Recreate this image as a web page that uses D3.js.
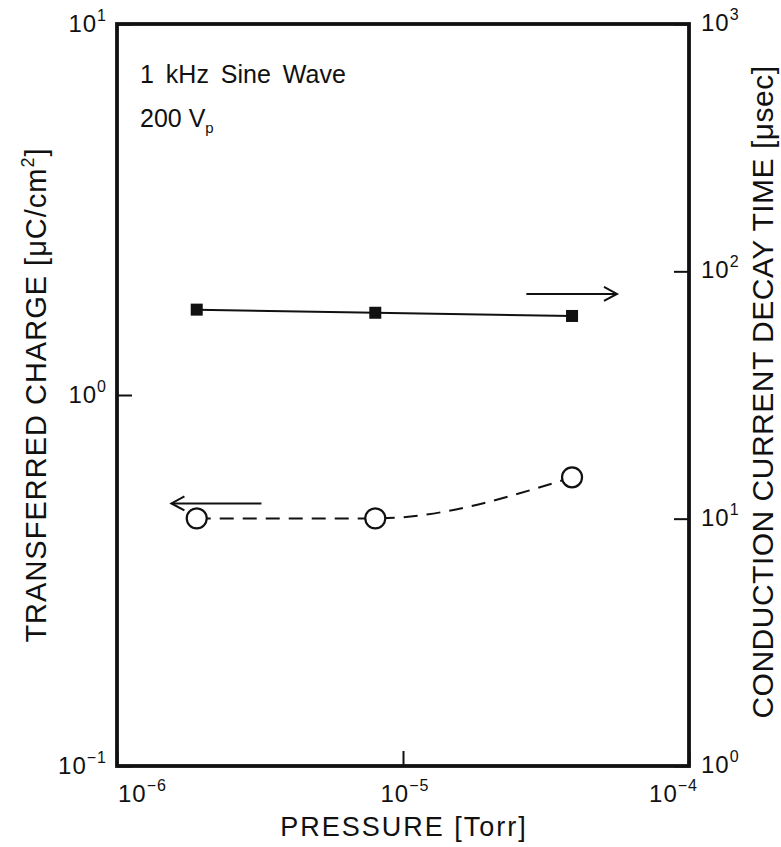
<!DOCTYPE html>
<html>
<head>
<meta charset="utf-8">
<script src="https://cdn.jsdelivr.net/npm/d3@7"></script>
<style>
  body { margin: 0; background: #fff; }
  svg text { font-family: "Liberation Sans", Arial, sans-serif; fill: #111; }
</style>
</head>
<body>
<svg id="chart" width="781" height="847"></svg>
<script>
// data
var pressure = [1.9e-6, 8.0e-6, 3.9e-5];          // Torr
var decayTime = [70, 68, 66];                     // usec, right axis
var charge = [0.465, 0.465, 0.60];                // uC/cm2, left axis

var xTicks = [1e-6, 1e-5, 1e-4];
var xTickExp = ["\u22126", "\u22125", "\u22124"];
var yLeftTicks = [0.1, 1, 10];
var yLeftExp = ["\u22121", "0", "1"];
var yRightTicks = [1, 10, 100, 1000];
var yRightExp = ["0", "1", "2", "3"];

var LEFT = 117, RIGHT = 689, TOP = 24, BOTTOM = 766;
var TICK = 15;

var svg = d3.select("#chart");

var x = d3.scaleLog().domain([1e-6, 1e-4]).range([LEFT, RIGHT]);
var yL = d3.scaleLog().domain([0.1, 10]).range([BOTTOM, TOP]);
var yR = d3.scaleLog().domain([1, 1000]).range([BOTTOM, TOP]);

// inward ticks
svg.append("g").attr("transform", "translate(0," + BOTTOM + ")")
    .call(d3.axisBottom(x).tickValues(xTicks).tickSize(-TICK).tickFormat(""))
    .call(function(g) { g.select(".domain").remove(); });
svg.append("g").attr("transform", "translate(" + LEFT + ",0)")
    .call(d3.axisLeft(yL).tickValues(yLeftTicks).tickSize(-TICK).tickFormat(""))
    .call(function(g) { g.select(".domain").remove(); });
svg.append("g").attr("transform", "translate(" + RIGHT + ",0)")
    .call(d3.axisRight(yR).tickValues(yRightTicks).tickSize(-TICK).tickFormat(""))
    .call(function(g) { g.select(".domain").remove(); });
svg.selectAll(".tick line").attr("stroke", "#111").attr("stroke-width", 2);

// frame
svg.append("rect")
    .attr("x", LEFT).attr("y", TOP)
    .attr("width", RIGHT - LEFT).attr("height", BOTTOM - TOP)
    .attr("fill", "none").attr("stroke", "#111").attr("stroke-width", 3.8);

function powLabel(sel, exp) {
    sel.append("tspan").text("10");
    sel.append("tspan").attr("dy", -11).attr("font-size", 16).text(exp);
}

// x tick labels (the end ones sit inside the corners)
var xAnchor = ["start", "middle", "end"];
var xShift = [1, 2, 9];
xTicks.forEach(function(v, i) {
    var t = svg.append("text")
        .attr("x", x(v) + xShift[i]).attr("y", 802)
        .attr("text-anchor", xAnchor[i]).attr("font-size", 24)
        .attr("letter-spacing", 1);
    powLabel(t, xTickExp[i]);
});

// left tick labels
yLeftTicks.forEach(function(v, i) {
    var t = svg.append("text")
        .attr("x", 107).attr("y", yL(v) + 8)
        .attr("text-anchor", "end").attr("font-size", 24)
        .attr("letter-spacing", 1);
    powLabel(t, yLeftExp[i]);
});

// right tick labels
yRightTicks.forEach(function(v, i) {
    var t = svg.append("text")
        .attr("x", 701).attr("y", yR(v) + 7)
        .attr("text-anchor", "start").attr("font-size", 24)
        .attr("letter-spacing", 1);
    powLabel(t, yRightExp[i]);
});

// axis titles
svg.append("text")
    .attr("x", 404).attr("y", 836)
    .attr("text-anchor", "middle").attr("font-size", 27)
    .attr("letter-spacing", 2)
    .text("PRESSURE [Torr]");

var lt = svg.append("text")
    .attr("transform", "translate(46," + ((TOP + BOTTOM) / 2) + ") rotate(-90)")
    .attr("text-anchor", "middle").attr("font-size", 29)
    .attr("letter-spacing", 1);
lt.append("tspan").text("TRANSFERRED CHARGE [\u03bcC/cm");
lt.append("tspan").attr("dy", -12).attr("font-size", 18).text("2");
lt.append("tspan").attr("dy", 12).text("]");

svg.append("text")
    .attr("transform", "translate(773," + ((TOP + BOTTOM) / 2 - 3) + ") rotate(-90)")
    .attr("text-anchor", "middle").attr("font-size", 30)
    .attr("letter-spacing", 0.5)
    .text("CONDUCTION CURRENT DECAY TIME [\u03bcsec]");

// condition notes
svg.append("text").attr("x", 140).attr("y", 83).attr("font-size", 25)
    .attr("word-spacing", 5).text("1 kHz Sine Wave");
var vp = svg.append("text").attr("x", 140).attr("y", 127).attr("font-size", 25);
vp.append("tspan").text("200 V");
vp.append("tspan").attr("dy", 6).attr("font-size", 15).text("p");

// decay time series: solid line with filled squares
var pts = pressure.map(function(p, i) { return { p: p, t: decayTime[i], q: charge[i] }; });

svg.append("path").datum(pts)
    .attr("fill", "none").attr("stroke", "#111").attr("stroke-width", 2)
    .attr("d", d3.line().x(function(d) { return x(d.p); }).y(function(d) { return yR(d.t); }));
svg.selectAll("rect.sq").data(pts).enter().append("rect")
    .attr("class", "sq")
    .attr("x", function(d) { return x(d.p) - 6; })
    .attr("y", function(d) { return yR(d.t) - 6; })
    .attr("width", 12).attr("height", 12).attr("fill", "#111");

// charge series: dashed curve with open circles
svg.append("path").datum(pts)
    .attr("fill", "none").attr("stroke", "#111").attr("stroke-width", 2)
    .attr("stroke-dasharray", "14,9")
    .attr("d", d3.line().curve(d3.curveMonotoneX)
        .x(function(d) { return x(d.p); }).y(function(d) { return yL(d.q); }));
svg.selectAll("circle.ch").data(pts).enter().append("circle")
    .attr("class", "ch")
    .attr("cx", function(d) { return x(d.p); })
    .attr("cy", function(d) { return yL(d.q); })
    .attr("r", 10).attr("fill", "#fff").attr("stroke", "#111").attr("stroke-width", 2.2);

// arrows telling which axis each series belongs to
function arrow(x1, x2, y, dir) {
    svg.append("line").attr("x1", x1).attr("x2", x2).attr("y1", y).attr("y2", y)
        .attr("stroke", "#111").attr("stroke-width", 2);
    var tip = dir > 0 ? x2 : x1;
    svg.append("path")
        .attr("d", "M" + (tip - dir * 13) + "," + (y - 7) + "L" + tip + "," + y +
                   "L" + (tip - dir * 13) + "," + (y + 7))
        .attr("fill", "none").attr("stroke", "#111").attr("stroke-width", 2);
}
arrow(x(2.7e-5), x(5.6e-5), yR(81), 1);
arrow(x(1.55e-6), x(3.2e-6), yL(0.51), -1);
</script>
</body>
</html>
